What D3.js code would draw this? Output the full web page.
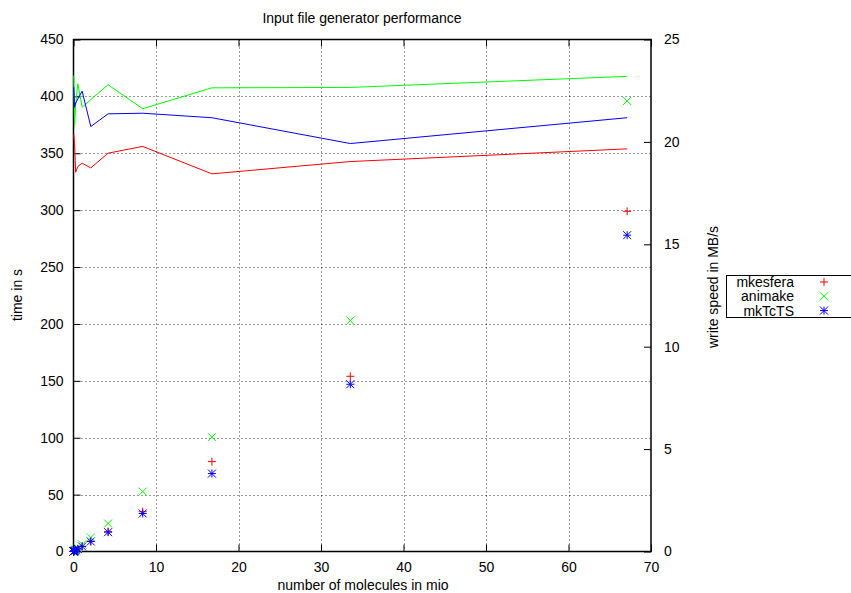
<!DOCTYPE html>
<html>
<head>
<meta charset="utf-8">
<script src="https://cdn.jsdelivr.net/npm/d3@7"></script>
<style>
  body { margin: 0; background: #fff; }
  text { font-family: "Liberation Sans", Arial, sans-serif; font-size: 14px; fill: #000; }
</style>
</head>
<body>
<script>
// number of molecules (mio) for the timing points
var molecules = [ 0.008, 0.016, 0.033, 0.065, 0.131, 0.262, 0.524, 1.049, 2.097, 4.194, 8.389, 16.777, 33.554, 67.109 ];
// time in s
var timeMkesfera = [ 0.04, 0.07, 0.15, 0.3, 0.6, 1.2, 2.3, 4.6, 9.1, 17.5, 35, 79, 154, 299 ];
var timeAnimake  = [ 0.05, 0.1, 0.2, 0.4, 0.8, 1.5, 3.1, 6.2, 12.3, 24.6, 52.7, 100.5, 203, 396 ];
var timeMkTcTS   = [ 0.04, 0.07, 0.14, 0.3, 0.6, 1.1, 2.3, 4.4, 8.8, 17, 33.4, 68.5, 147, 278 ];

// write speed in MB/s (right axis)
var speedMolecules = [ 0.033, 0.131, 0.262, 0.524, 1.049, 2.097, 4.194, 8.389, 16.777, 33.554, 67.109 ];
var speedMkesfera = [ 20.36, 19.9, 18.52, 18.8, 18.96, 18.73, 19.45, 19.78, 18.44, 19.04, 19.66 ];
var speedAnimake  = [ 23.24, 20.8, 21.8, 22.84, 21.69, 22.07, 22.79, 21.62, 22.64, 22.66, 23.2 ];
var speedMkTcTS   = [ 22.67, 21.69, 21.9, 22.1, 22.48, 20.75, 21.37, 21.4, 21.18, 19.92, 21.18 ];

var seriesNames = [ "mkesfera", "animake", "mkTcTS" ];
var xTicks  = [ 0, 10, 20, 30, 40, 50, 60, 70 ];
var yTicks  = [ 0, 50, 100, 150, 200, 250, 300, 350, 400, 450 ];
var y2Ticks = [ 0, 5, 10, 15, 20, 25 ];

var colors = [ "#ff0000", "#00ff00", "#0000ff" ];
var times  = [ timeMkesfera, timeAnimake, timeMkTcTS ];
var speeds = [ speedMkesfera, speedAnimake, speedMkTcTS ];

var svg = d3.select( "body" )
            .append( "svg" )
              .attr( "width", 851 )
              .attr( "height", 593 );

// plot box (note: "top" is a reserved window property, so use other names)
var plotLeft = 73.5, plotRight = 651, plotTop = 39.5, plotBottom = 551.5;

var x  = d3.scaleLinear().domain( [ 0, 70 ] ).range( [ plotLeft, plotRight ] );
var y  = d3.scaleLinear().domain( [ 0, 450 ] ).range( [ plotBottom, plotTop ] );
var y2 = d3.scaleLinear().domain( [ 0, 25 ] ).range( [ plotBottom, plotTop ] );

// dotted grid
var grid = svg.append( "g" ).attr( "stroke", "#000" ).attr( "stroke-width", 0.8 ).attr( "stroke-dasharray", "1,3" );
grid.selectAll( "line.gx" ).data( xTicks.slice( 1, -1 ) ).enter().append( "line" )
  .attr( "x1", function(d){ return Math.round( x(d) ) + 0.5; } )
  .attr( "x2", function(d){ return Math.round( x(d) ) + 0.5; } )
  .attr( "y1", plotTop ).attr( "y2", plotBottom );
grid.selectAll( "line.gy" ).data( yTicks.slice( 1, -1 ) ).enter().append( "line" )
  .attr( "y1", function(d){ return Math.round( y(d) ) + 0.5; } )
  .attr( "y2", function(d){ return Math.round( y(d) ) + 0.5; } )
  .attr( "x1", plotLeft ).attr( "x2", plotRight );

// axes with inward ticks
var xAxis = svg.append( "g" ).attr( "transform", "translate(0," + plotBottom + ")" )
  .call( d3.axisBottom( x ).tickValues( xTicks ).tickSizeInner( -7 ).tickSizeOuter( 0 ).tickPadding( 11 ) );
var xAxisTop = svg.append( "g" ).attr( "transform", "translate(0," + plotTop + ")" )
  .call( d3.axisTop( x ).tickValues( xTicks ).tickSizeInner( -7 ).tickSizeOuter( 0 ).tickFormat( "" ) );
var yAxis = svg.append( "g" ).attr( "transform", "translate(" + plotLeft + ",0)" )
  .call( d3.axisLeft( y ).tickValues( yTicks ).tickSizeInner( -7 ).tickSizeOuter( 0 ).tickPadding( 10 ) );
var y2Axis = svg.append( "g" ).attr( "transform", "translate(" + plotRight + ",0)" )
  .call( d3.axisRight( y2 ).tickValues( y2Ticks ).tickSizeInner( -7 ).tickSizeOuter( 0 ).tickPadding( 13 ) );

[ xAxis, xAxisTop, yAxis, y2Axis ].forEach( function(g){
  g.select( ".domain" ).remove();
  g.selectAll( "text" ).attr( "font-size", 14 ).attr( "font-family", "Liberation Sans, Arial, sans-serif" );
  g.selectAll( "line" ).attr( "stroke", "#000" ).attr( "stroke-width", 1 );
});

// border
svg.append( "rect" )
  .attr( "x", plotLeft ).attr( "y", plotTop )
  .attr( "width", plotRight - plotLeft ).attr( "height", plotBottom - plotTop )
  .attr( "fill", "none" ).attr( "stroke", "#000" ).attr( "stroke-width", 1.5 );

// speed lines
var line = d3.line()
  .x( function(d){ return x( d[0] ); } )
  .y( function(d){ return y2( d[1] ); } );

speeds.forEach( function(s, i){
  svg.append( "path" )
    .datum( speedMolecules.map( function(m, j){ return [ m, s[j] ]; } ) )
    .attr( "d", line )
    .attr( "fill", "none" )
    .attr( "stroke", colors[i] )
    .attr( "stroke-width", 1 );
});

// markers: + for mkesfera, x for animake, * for mkTcTS
var r = 4;
function marker( g, kind, cx, cy, color ){
  var p = "";
  if ( kind === 0 || kind === 2 ) p += "M" + (cx - r) + "," + cy + "H" + (cx + r) + "M" + cx + "," + (cy - r) + "V" + (cy + r);
  if ( kind === 1 || kind === 2 ) p += "M" + (cx - r) + "," + (cy - r) + "L" + (cx + r) + "," + (cy + r) + "M" + (cx - r) + "," + (cy + r) + "L" + (cx + r) + "," + (cy - r);
  g.append( "path" ).attr( "d", p ).attr( "stroke", color ).attr( "stroke-width", 1 ).attr( "fill", "none" );
}

times.forEach( function(t, i){
  var g = svg.append( "g" );
  molecules.forEach( function(m, j){
    marker( g, i, x( m ), y( t[j] ), colors[i] );
  });
});

// titles
svg.append( "text" ).attr( "x", 362 ).attr( "y", 23 ).attr( "text-anchor", "middle" ).text( "Input file generator performance" );
svg.append( "text" ).attr( "x", 363 ).attr( "y", 590 ).attr( "text-anchor", "middle" ).text( "number of molecules in mio" );
svg.append( "text" ).attr( "transform", "translate(22,295) rotate(-90)" ).attr( "text-anchor", "middle" ).text( "time in s" );
svg.append( "text" ).attr( "transform", "translate(718,287) rotate(-90)" ).attr( "text-anchor", "middle" ).text( "write speed in MB/s" );

// legend
var legend = svg.append( "g" );
legend.append( "rect" ).attr( "x", 726.5 ).attr( "y", 275.5 ).attr( "width", 140 ).attr( "height", 42 )
  .attr( "fill", "#fff" ).attr( "stroke", "#000" ).attr( "stroke-width", 1 );
seriesNames.forEach( function(n, i){
  var cy = 282 + i * 14.3;
  legend.append( "text" ).attr( "x", 794 ).attr( "y", cy + 5 ).attr( "text-anchor", "end" ).text( n );
  marker( legend, i, 824, cy, colors[i] );
});
</script>
</body>
</html>
